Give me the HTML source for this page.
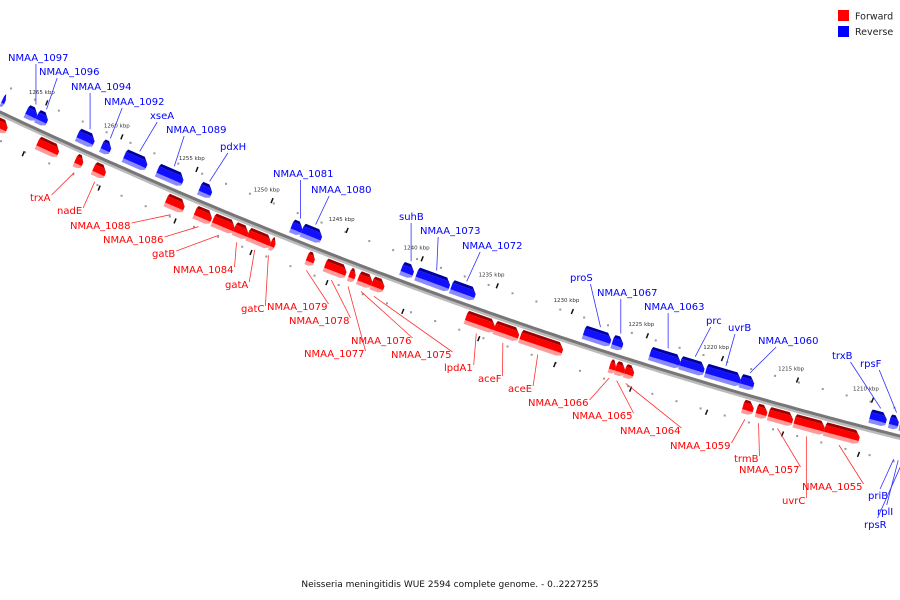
<!DOCTYPE html>
<html><head><meta charset="utf-8"><style>
body{margin:0;background:#fff}
svg{display:block;font-family:"DejaVu Sans","Liberation Sans",sans-serif}
</style></head><body>
<svg id="c" width="900" height="600" viewBox="0 0 900 600">
<g>
<rect x="838" y="10" width="11" height="11" fill="#ff0000"/>
<text x="855" y="19.5" font-size="9.5" fill="#222">Forward</text>
<rect x="838" y="26" width="11" height="11" fill="#0000ff"/>
<text x="855" y="35" font-size="9.5" fill="#222">Reverse</text>
</g>
<text x="450" y="587" text-anchor="middle" font-size="9" fill="#111">Neisseria meningitidis WUE 2594 complete genome. - 0..2227255</text>
</svg>
<script>
const geneNames=["","NMAA_1097","NMAA_1096","NMAA_1094","NMAA_1092","xseA","NMAA_1089","pdxH","NMAA_1081","NMAA_1080","suhB","NMAA_1073","NMAA_1072","proS","NMAA_1067","NMAA_1063","prc","uvrB","NMAA_1060","trxB","rpsF","priB","rplI","rpsR",
"","","trxA","nadE","NMAA_1088","NMAA_1086","gatB","NMAA_1084","gatA","gatC","NMAA_1079","NMAA_1078","NMAA_1077","NMAA_1076","NMAA_1075","lpdA1","aceF","aceE","NMAA_1066","NMAA_1065","NMAA_1064","NMAA_1059","trmB","NMAA_1057","uvrC","NMAA_1055"];
const geneStart=[1267.5,1265.9,1265.2,1262.5,1260.9,1259.4,1257.2,1254.4,1248.3,1247.6,1241.0,1240.0,1237.7,1228.9,1227.0,1224.5,1222.5,1220.8,1218.5,1209.9,1208.6,1207.9,1207.6,1207.3,
1267.3,1264.5,1262.0,1260.8,1256.0,1254.1,1252.9,1251.5,1250.6,1249.1,1246.7,1245.5,1243.9,1243.3,1242.4,1236.2,1234.3,1232.6,1226.7,1226.3,1225.7,1217.9,1217.0,1216.2,1214.5,1212.5];
const geneEnd=[1267.3,1265.2,1264.5,1261.4,1260.3,1257.9,1255.5,1253.6,1247.6,1246.3,1240.2,1237.8,1236.1,1227.1,1226.3,1222.5,1220.9,1218.5,1217.6,1208.8,1208.0,1207.6,1207.3,1207.0,
1266.5,1263.1,1261.5,1260.0,1254.8,1253.0,1251.5,1250.6,1249.1,1248.8,1246.2,1244.1,1243.5,1242.4,1241.6,1234.3,1232.7,1229.8,1226.3,1225.7,1225.1,1217.2,1216.3,1214.6,1212.5,1210.2];
const geneStrand=[-1,-1,-1,-1,-1,-1,-1,-1,-1,-1,-1,-1,-1,-1,-1,-1,-1,-1,-1,-1,-1,-1,-1,-1,
1,1,1,1,1,1,1,1,1,1,1,1,1,1,1,1,1,1,1,1,1,1,1,1,1,1];
const tickKbp=[1265,1260,1255,1250,1245,1240,1235,1230,1225,1220,1215,1210];
const tickLabels=["1265 kbp","1260 kbp","1255 kbp","1250 kbp","1245 kbp","1240 kbp","1235 kbp","1230 kbp","1225 kbp","1220 kbp","1215 kbp","1210 kbp"];
// layout (pixels) for label placement
const labelPos={"NMAA_1097":[8,61],"NMAA_1096":[39,75],"NMAA_1094":[71,90],"NMAA_1092":[104,105],"xseA":[150,119],"NMAA_1089":[166,133],"pdxH":[220,150],"NMAA_1081":[273,177],"NMAA_1080":[311,193],"suhB":[399,220],"NMAA_1073":[420,234],"NMAA_1072":[462,249],"proS":[570,281],"NMAA_1067":[597,296],"NMAA_1063":[644,310],"prc":[706,324],"uvrB":[728,331],"NMAA_1060":[758,344],"trxB":[832,359],"rpsF":[860,367],"priB":[868,499],"rplI":[877,515],"rpsR":[864,528],
"trxA":[30,201],"nadE":[57,214],"NMAA_1088":[70,229],"NMAA_1086":[103,243],"gatB":[152,257],"NMAA_1084":[173,273],"gatA":[225,288],"gatC":[241,312],"NMAA_1079":[267,310],"NMAA_1078":[289,324],"NMAA_1077":[304,357],"NMAA_1076":[351,344],"NMAA_1075":[391,358],"lpdA1":[444,371],"aceF":[478,382],"aceE":[508,392],"NMAA_1066":[528,406],"NMAA_1065":[572,419],"NMAA_1064":[620,434],"NMAA_1059":[670,449],"trmB":[734,462],"NMAA_1057":[739,473],"uvrC":[782,504],"NMAA_1055":[802,490]};
const NS="http://www.w3.org/2000/svg";
const svg=document.getElementById('c');
function kx(k){return 35+(1265-k)*15.1;}
function cy(x){return 112+0.47*x-1.222e-4*x*x;}
function pt(x,off){const s=0.47-2*1.222e-4*x;const n=Math.sqrt(1+s*s);return [x-off*s/n, cy(x)+off/n];}
function mk(tag,attrs){const e=document.createElementNS(NS,tag);for(const k in attrs)e.setAttribute(k,attrs[k]);return e;}
let d="";for(let x=-5;x<=905;x+=5){const p=pt(x,0);d+=(x==-5?"M":"L")+p[0].toFixed(1)+","+p[1].toFixed(1);}
const shadow=mk('path',{d:d,stroke:'#bbb','stroke-width':5,fill:'none',transform:'translate(0,1.5)'});


svg.appendChild(shadow);
const bb=mk('path',{d:d,stroke:'#777','stroke-width':3,fill:'none'});


svg.appendChild(bb);
for(let x=0;x<900;x+=24){for(const off of [-26,26]){const p=pt(x+(off>0?12:0),off);const c=mk('rect',{x:p[0]-1,y:p[1]-1,width:2,height:2,fill:'#999'});


svg.appendChild(c);}}
tickKbp.forEach((k,i)=>{const x=kx(k);
for(const off of [-28,28]){const p=pt(x,off);const t=mk('line',{x1:p[0]-1,y1:p[1]+2.5,x2:p[0]+1,y2:p[1]-2.5,stroke:'#111','stroke-width':1.5});


svg.appendChild(t);}
const p=pt(x,-38);const tl=mk('text',{x:p[0]-22,y:p[1],'font-size':5.5,fill:'#333'});tl.textContent=tickLabels[i];


svg.appendChild(tl);});
geneNames.forEach((nm,i)=>{
 const x1=kx(geneStart[i]),x2=kx(geneEnd[i]);const st=geneStrand[i];
 const main=st>0?'#ff0000':'#1010ff',dark=st>0?'#a00000':'#0000a0',light=st>0?'#ff9a9a':'#8a8aff';
 const a=st>0?5:-5,b=st>0?19:-19;
 const top=Math.min(a,b),bot=Math.max(a,b);
 const tip=Math.min(4,(x2-x1)*0.4);
 const g=mk('g',{});
 
 
 const P=(x,o)=>pt(x,o).map(v=>v.toFixed(1)).join(',');
 g.appendChild(mk('polygon',{points:[P(x1,bot-4),P(x2-tip,bot-4),P(x2,bot-6),P(x2,bot-2),P(x2-tip,bot),P(x1,bot)].join(' '),fill:light}));
 g.appendChild(mk('polygon',{points:[P(x1,top+3),P(x2-tip,top+3),P(x2,top+6),P(x2,bot-4),P(x1,bot-4)].join(' '),fill:main}));
 g.appendChild(mk('polygon',{points:[P(x1+1,top),P(x2-tip-1,top),P(x2,top+6),P(x2-tip,top+3),P(x1,top+3)].join(' '),fill:dark}));
 svg.appendChild(g);
 if(nm&&labelPos[nm]){const [lx,ly]=labelPos[nm];
  const t=mk('text',{x:lx,y:ly,'font-size':10,fill:st>0?'#ff0000':'#0000ff'});t.textContent=nm;
  
  
  svg.appendChild(t);
  const w=t.getComputedTextLength();const mid=(x1+x2)/2;
  let sx,sy,e;
  if(st<0){e=pt(mid,-22);sx=Math.min(Math.max(e[0],lx+w*0.3),lx+w*0.9);sy=ly+3;if(ly>400){e=pt(mid,24);sx=lx+w*0.6;sy=ly-10;}}
  else{e=pt(mid,24);sx=lx+w+1;sy=ly-6;if(e[1]>ly-10){sx=lx+w*0.8;}}
  const ln=mk('line',{x1:sx,y1:sy,x2:e[0],y2:e[1],stroke:st>0?'#ff3030':'#3030ff','stroke-width':0.8});
  
  
  svg.appendChild(ln);}
});
</script>
</body></html>
